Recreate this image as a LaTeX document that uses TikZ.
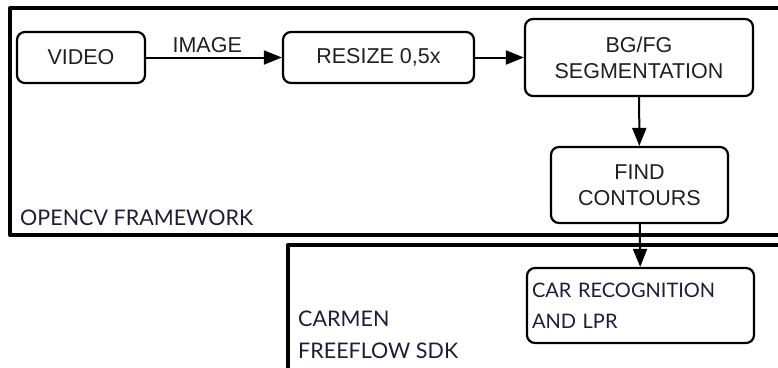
\documentclass[tikz,border=0pt]{standalone}
\usepackage{fontspec}
\setmainfont{Liberation Sans}
\newfontfamily\framefont{Lato}
\usetikzlibrary{arrows.meta, positioning}

\definecolor{navy}{RGB}{28,30,52}

\begin{document}
\begin{tikzpicture}[x = 1pt, y = -1pt, line join = round,
  box/.style = {draw, line width = 2.2pt, rounded corners = 8pt, inner sep = 0pt,
    align = center, text = black!88, font = \fontsize{21.5}{26}\selectfont},
  arr/.style = {line width = 2pt, -{Triangle[length = 18pt, width = 14pt]}},
  frame/.style = {line width = 4pt},
  framelabel/.style = {anchor = base west, inner sep = 0pt, text = navy,
    font = \framefont\fontsize{21.5}{24}\selectfont}]
  \clip (0, 0) rectangle (778, 367);		% 画像の大きさ

  % 枠
  \draw [frame] (10, 8) rectangle (800, 235);		% OpenCV
  \draw [frame] (288, 245) rectangle (800, 400);	% Carmen

  % 枠のラベル
  \node [framelabel] (opencv) at (20, 225) {OPENCV FRAMEWORK};
  \node [framelabel] (carmen) at (298, 326) {CARMEN};
  \node [framelabel] (freeflow) at (298, 358) {FREEFLOW SDK};

  % 箱
  \node [box, minimum width = 128, minimum height = 51] (video) at (81, 57.5) {VIDEO};
  \node [box, minimum width = 191, minimum height = 51] (resize) at (378.5, 57.5) {RESIZE 0,5x};
  \node [box, minimum width = 228, minimum height = 77] (bgfg) at (639, 57.5) {BG/FG\\SEGMENTATION};
  \node [box, minimum width = 177, minimum height = 76] (find) at (639.5, 185) {FIND\\CONTOURS};
  \node [box, minimum width = 227, minimum height = 75, align = left, text width = 217,
    inner xsep = 5pt, text = navy, font = \framefont\fontsize{20}{31}\selectfont]
    (car) at (640.5, 305.5) {CAR RECOGNITION\\AND LPR};

  % 矢印
  \draw [arr] (video) -- node [above, pos = 0.45, inner sep = 4pt, text = black!88,
    font = \fontsize{21.5}{26}\selectfont] (image) {IMAGE} (resize);
  \draw [arr] (resize) -- (bgfg);
  \draw [arr] (bgfg) -- (find);
  \draw [arr] (find) -- (car);

\end{tikzpicture}
\end{document}
